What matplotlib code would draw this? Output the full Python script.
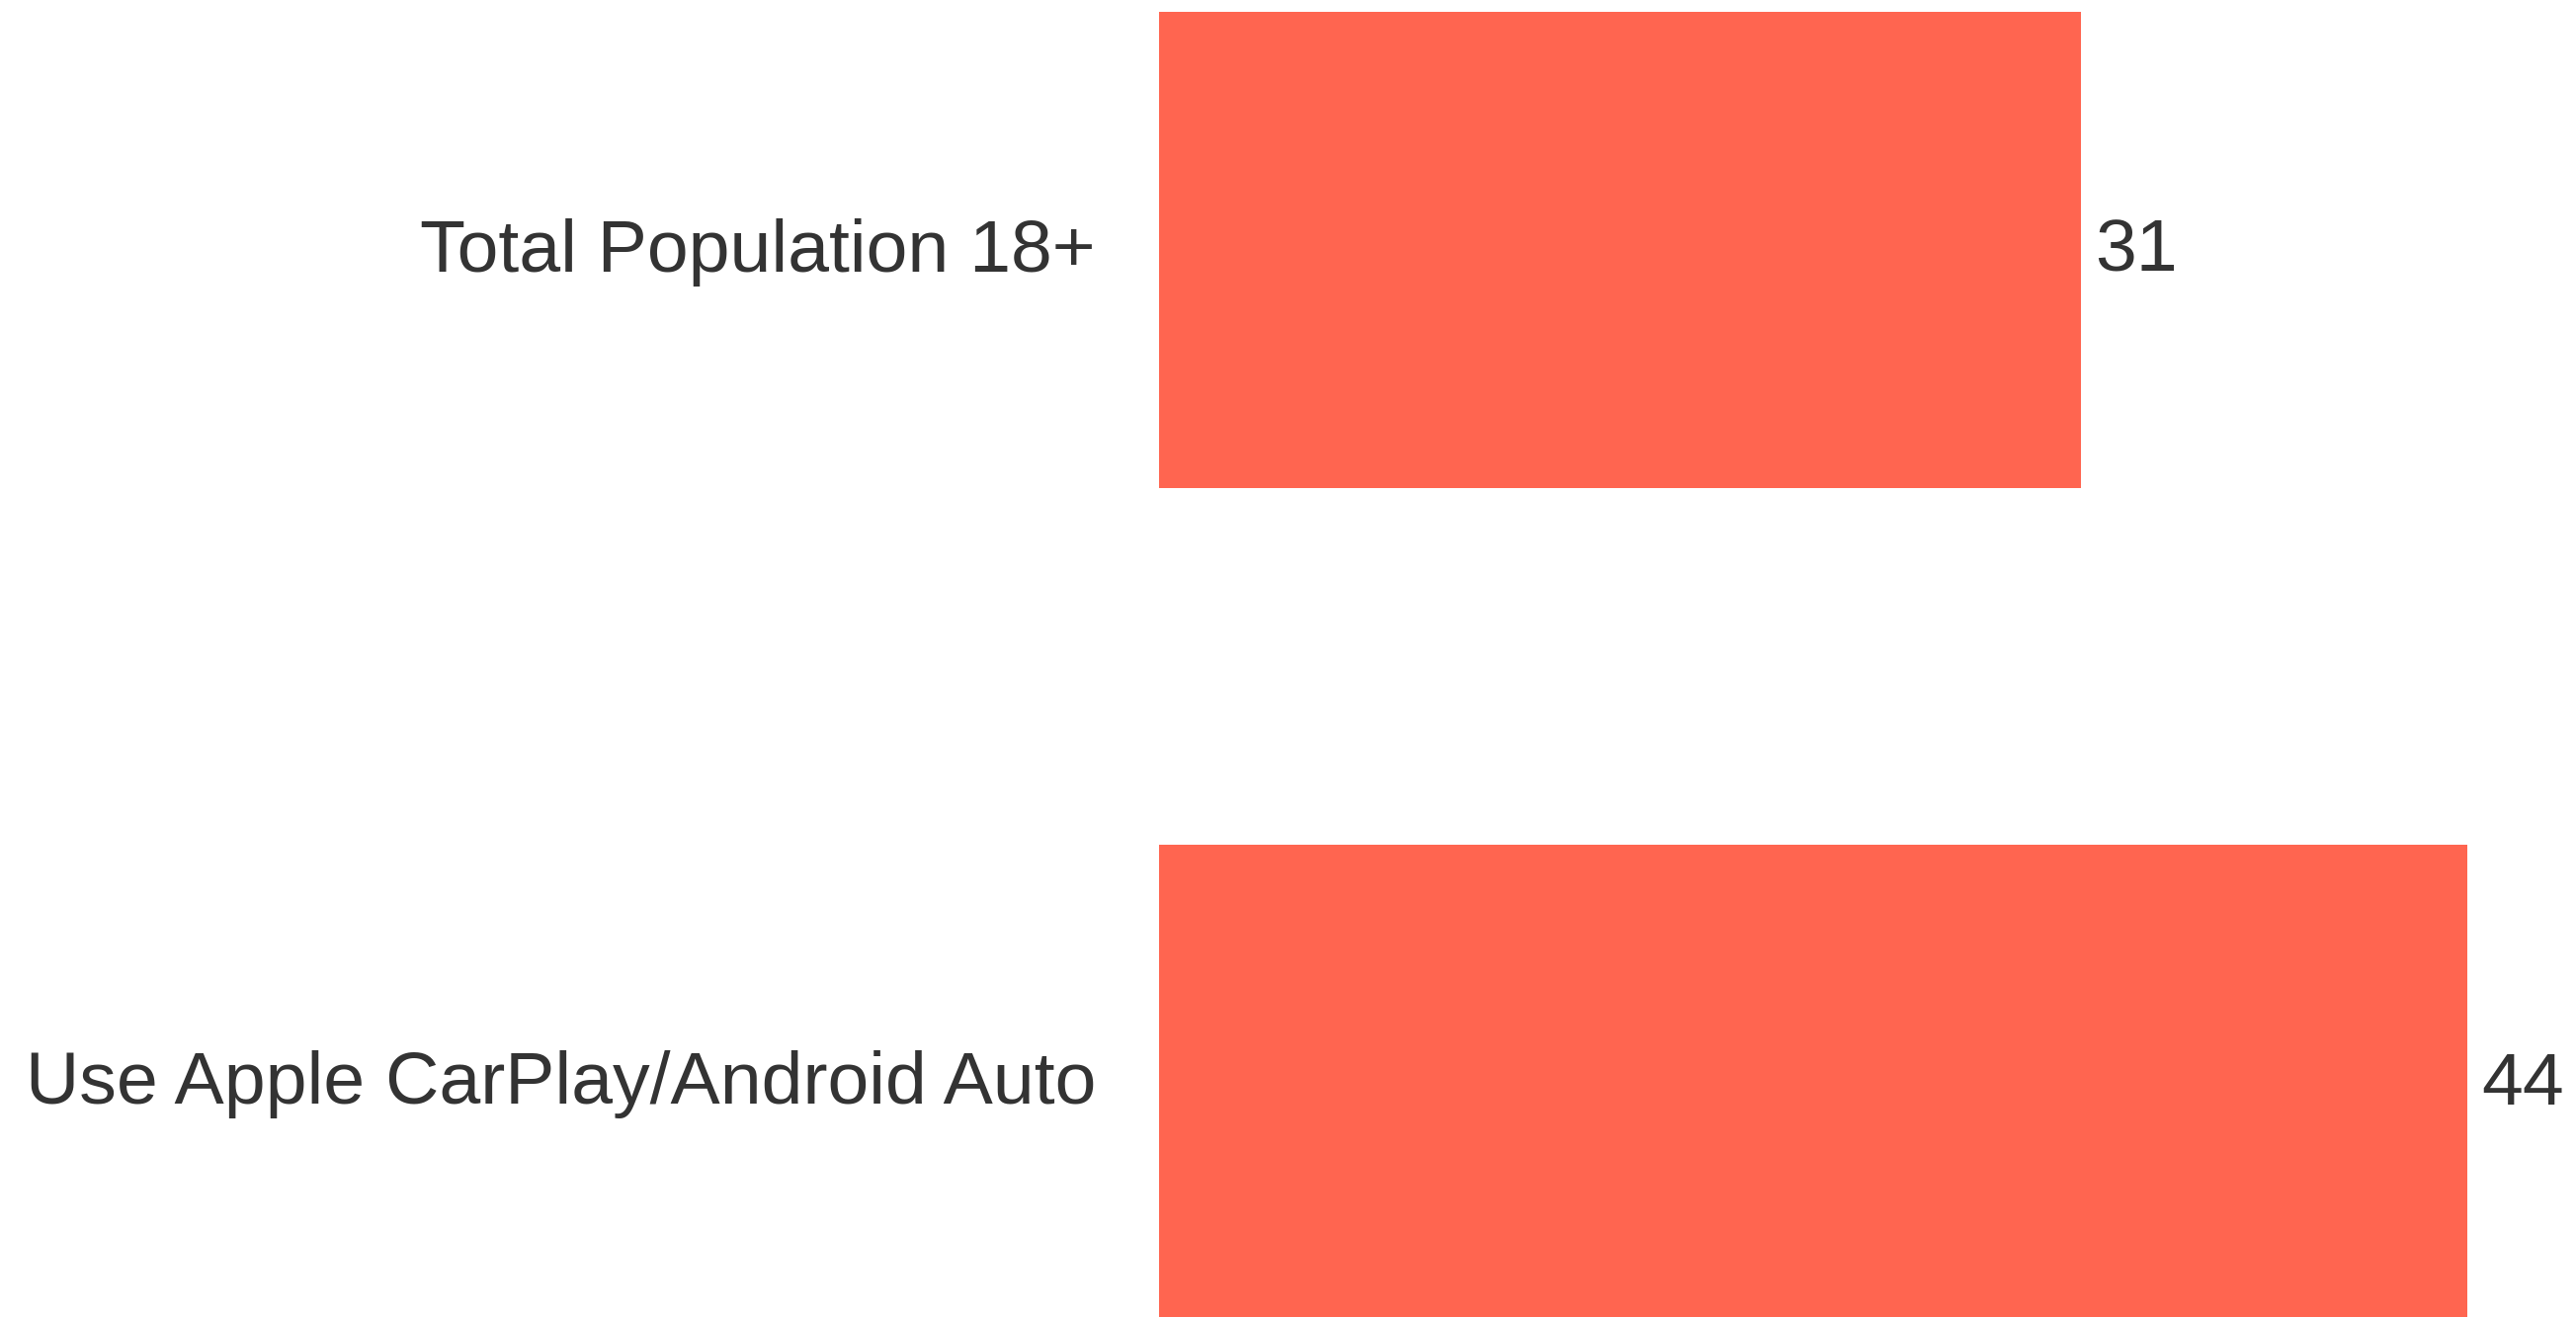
import matplotlib
matplotlib.use("Agg")
import matplotlib.pyplot as plt

categories = ["Total Population 18+", "Use Apple CarPlay/Android Auto"]
values = [31, 44]

W, H = 2607, 1333
DPI = 100
fig = plt.figure(figsize=(W / DPI, H / DPI), dpi=DPI)
fig.patch.set_facecolor("white")

x0_px = 1173
px_per_unit = 30.1
xmax = 47
ax = fig.add_axes([x0_px / W, 0, xmax * px_per_unit / W, 1])

spacing_px = 843.0
c0_px = 253.0
ytop = -c0_px / spacing_px
ybot = 1 + (H - (c0_px + spacing_px)) / spacing_px

ypos = list(range(len(categories)))
ax.barh(ypos, values, height=482 / spacing_px, color="#FF6550", edgecolor="none")
ax.set_xlim(0, xmax)
ax.set_ylim(ybot, ytop)

txt_color = "#333333"
fs = 54.2
dy = 2 / spacing_px
for y, v, c in zip(ypos, values, categories):
    ax.text(v + 14 / px_per_unit, y + dy, f"{v}", va="center", ha="left",
            fontsize=fs, color=txt_color, family="Liberation Sans")
    ax.text(-64 / px_per_unit, y + dy, c, va="center", ha="right",
            fontsize=fs, color=txt_color, family="Liberation Sans", clip_on=False)

ax.axis("off")
fig.savefig("out.png", dpi=DPI, facecolor="white")
